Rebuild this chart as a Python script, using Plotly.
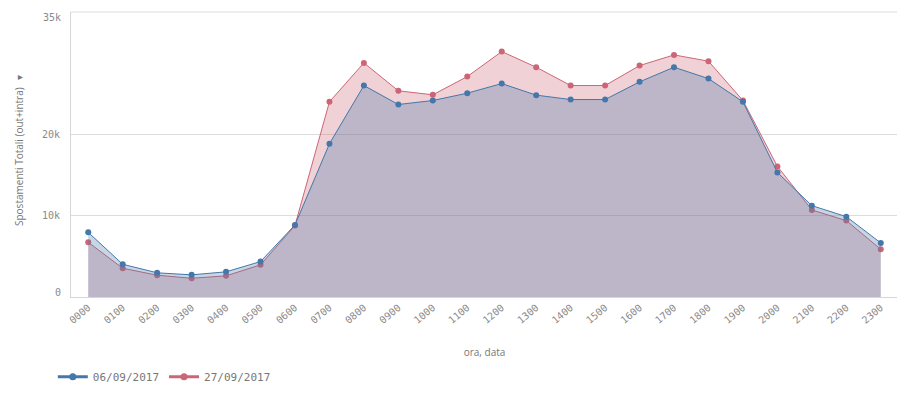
import plotly.graph_objects as go

hours = ["0000", "0100", "0200", "0300", "0400", "0500", "0600", "0700", "0800", "0900",
         "1000", "1100", "1200", "1300", "1400", "1500", "1600", "1700", "1800", "1900",
         "2000", "2100", "2200", "2300"]

series_0609 = [7940, 4020, 2970, 2720, 3090, 4350, 8850, 18820, 25970, 23640,
               24130, 25030, 26210, 24790, 24250, 24250, 26420, 28220, 26820, 23970,
               15300, 11220, 9870, 6640]

series_2709 = [6720, 3530, 2680, 2300, 2600, 3950, 8780, 23970, 28750, 25320,
               24830, 27070, 30140, 28220, 25970, 25970, 28420, 29730, 28960, 24130,
               16040, 10690, 9380, 5860]

y_tickvals = [0, 10000, 20000, 35000]
y_ticktext = ["0", "10k", "20k", "35k"]

label_0609 = "06/09/2017"
label_2709 = "27/09/2017"

BLUE = "#4477aa"
RED = "#cc6677"
GRAY = "#8a8a8a"
MONO = "DejaVu Sans Mono"
SANS = "Open Sans"

fig = go.Figure()

# red drawn first, blue on top (matches overlap colour)
fig.add_trace(go.Scatter(
    x=hours, y=series_2709, name=label_2709, mode="lines+markers",
    line=dict(color=RED, width=1), marker=dict(color=RED, size=6),
    fill="tozeroy", fillcolor="rgba(204,102,119,0.3)", showlegend=False,
))
fig.add_trace(go.Scatter(
    x=hours, y=series_0609, name=label_0609, mode="lines+markers",
    line=dict(color=BLUE, width=1), marker=dict(color=BLUE, size=6),
    fill="tozeroy", fillcolor="rgba(68,119,170,0.3)", showlegend=False,
))
# legend entries (line + dot, no fill swatch)
for name, col in [(label_0609, BLUE), (label_2709, RED)]:
    fig.add_trace(go.Scatter(
        x=[None], y=[None], name=name, mode="lines+markers",
        line=dict(color=col, width=3), marker=dict(color=col, size=7),
    ))

# inner tick labels drawn normally; edge labels (0, 35k) nudged inward like the original
inner = [(v, t) for v, t in zip(y_tickvals, y_ticktext) if 0 < v < max(y_tickvals)]
edge = [(v, t) for v, t in zip(y_tickvals, y_ticktext) if v in (0, max(y_tickvals))]

annotations = [dict(
    text="Spostamenti Totali (out+intra)   ▾", textangle=-90,
    xref="paper", yref="paper", x=(19 - 71) / 827, y=(297 - 151) / 285,
    xanchor="center", yanchor="middle", showarrow=False,
    font=dict(family=SANS, size=10, color="#777777"),
)]
for v, t in edge:
    annotations.append(dict(
        text=t, xref="paper", yref="y", x=0, y=v, xanchor="right", yanchor="middle",
        xshift=-8, yshift=(5 if v == 0 else -5), showarrow=False,
        font=dict(family=MONO, size=10, color=GRAY),
    ))

# page body has an 8px margin: figure is 897x388 placed at (8,8)
fig.update_layout(
    width=897, height=388,
    margin=dict(l=63, r=7, t=4, b=99, autoexpand=False),
    plot_bgcolor="white", paper_bgcolor="white",
    showlegend=True,
    legend=dict(orientation="h", x=-0.022, xanchor="left", y=-0.28, yanchor="middle",
                font=dict(family=MONO, size=11, color="#777777"),
                itemwidth=30, traceorder="normal"),
    xaxis=dict(
        type="category", range=[-0.5, 23.5], showgrid=False, automargin=False,
        showline=True, linecolor="#d6d6d6", linewidth=1,
        ticks="", tickangle=-40,
        tickfont=dict(family=MONO, size=10, color=GRAY),
        title=dict(text="ora, data", font=dict(family=SANS, size=10, color="#777777"), standoff=24),
    ),
    yaxis=dict(
        range=[0, 35000], tickvals=[v for v, _ in inner], ticktext=[t for _, t in inner],
        automargin=False,
        showgrid=True, gridcolor="#dcdcdc", gridwidth=1, zeroline=False,
        showline=True, linecolor="#d6d6d6", linewidth=1,
        ticks="", ticklabelstandoff=8,
        tickfont=dict(family=MONO, size=10, color=GRAY),
    ),
    shapes=[dict(type="line", xref="paper", yref="paper", x0=0, x1=1, y0=1, y1=1,
                 line=dict(color="#dcdcdc", width=1), layer="below")],
    annotations=annotations,
)

fig.write_html("out.html")
